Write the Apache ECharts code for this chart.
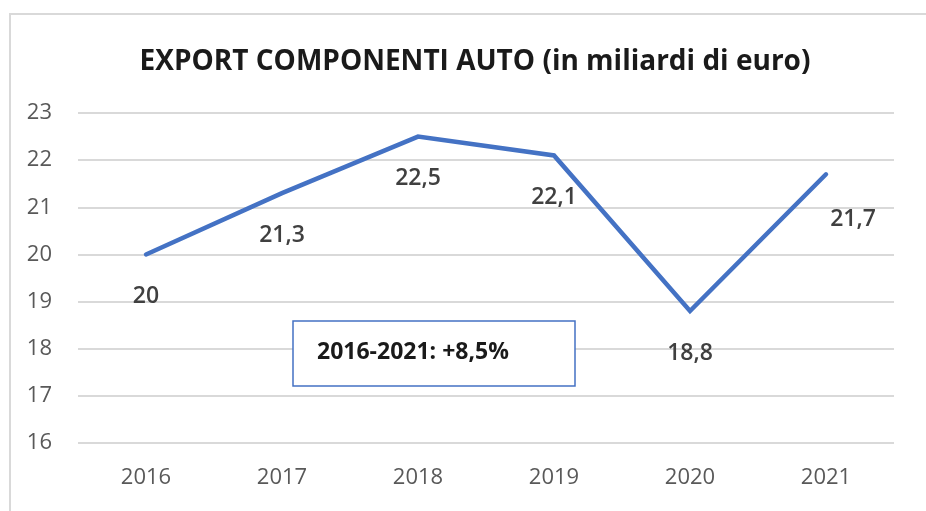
<!DOCTYPE html>
<html>
<head>
<meta charset="utf-8">
<script src="https://cdn.jsdelivr.net/npm/echarts@6/dist/echarts.min.js"></script>
<style>html,body{margin:0;padding:0;background:#fff;}#c{width:926px;height:511px;}</style>
</head>
<body>
<div id="c"></div>
<script>
var categories = ['2016', '2017', '2018', '2019', '2020', '2021'];
var values = [20, 21.3, 22.5, 22.1, 18.8, 21.7];
var yTicks = [16, 17, 18, 19, 20, 21, 22, 23];
var titleText = 'EXPORT COMPONENTI AUTO (in miliardi di euro)';
var boxText = '2016-2021: +8,5%';

var FONT = '"Open Sans", "Noto Sans", sans-serif';
var chart = echarts.init(document.getElementById('c'), null, {renderer: 'canvas'});

var seriesData = values.map(function (v, i) {
  var off = (i === values.length - 1) ? [27, 45] : [0, 42];
  return {
    value: v,
    label: {offset: off}
  };
});

chart.setOption({
  animation: false,
  backgroundColor: '#ffffff',
  title: {
    text: titleText,
    left: 470,
    top: 43,
    textAlign: 'center',
    textStyle: {fontFamily: FONT, fontWeight: 'bold', fontSize: 28, color: '#1a1a1a'}
  },
  grid: {left: 78, right: 32, top: 113, bottom: 68},
  xAxis: {
    type: 'category',
    data: categories,
    boundaryGap: true,
    axisLine: {show: false},
    axisTick: {show: false},
    axisLabel: {fontFamily: FONT, fontSize: 22, color: '#595959', margin: 24},
    splitLine: {show: false}
  },
  yAxis: {
    type: 'value',
    min: yTicks[0],
    max: yTicks[yTicks.length - 1],
    interval: 1,
    axisLine: {show: false},
    axisTick: {show: false},
    axisLabel: {fontFamily: FONT, fontSize: 22, color: '#595959', margin: 26,
      formatter: function (v) { return yTicks.indexOf(v) >= 0 ? String(v) : ''; }},
    splitLine: {lineStyle: {color: '#d9d9d9', width: 2}}
  },
  series: [{
    type: 'line',
    data: seriesData,
    symbol: 'circle',
    symbolSize: 1,
    itemStyle: {color: '#4472C4'},
    lineStyle: {color: '#4472C4', width: 4.5, cap: 'round', join: 'miter'},
    label: {
      show: true,
      position: 'inside',
      fontFamily: FONT,
      fontSize: 23,
      fontWeight: 600,
      color: '#404040',
      formatter: function (p) { return String(p.value).replace('.', ','); }
    }
  }],
  graphic: [
    {
      type: 'rect',
      shape: {x: 10, y: 14, width: 930, height: 520},
      style: {fill: 'none', stroke: '#d9d9d9', lineWidth: 2},
      silent: true
    },
    {
      type: 'rect',
      shape: {x: 293, y: 321, width: 282, height: 65},
      style: {fill: '#ffffff', stroke: '#4472C4', lineWidth: 1.5},
      z: 100
    },
    {
      type: 'text',
      x: 317,
      y: 352,
      style: {text: boxText, fontFamily: FONT, fontWeight: 'bold', fontSize: 23, fill: '#1a1a1a', verticalAlign: 'middle'},
      z: 101
    }
  ]
});
</script>
</body>
</html>
